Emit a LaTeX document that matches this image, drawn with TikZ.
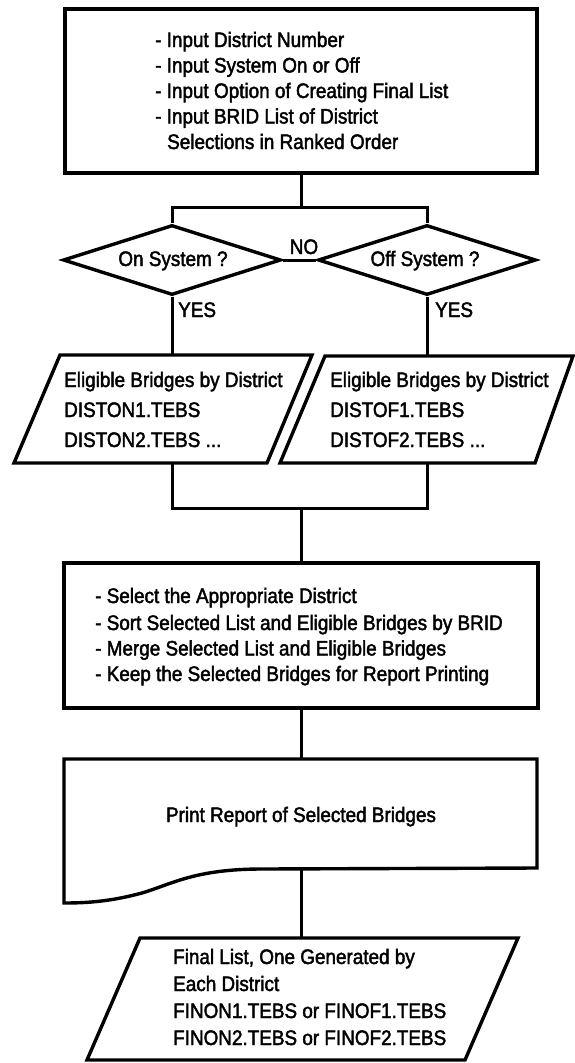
\documentclass[tikz,border=0pt]{standalone}
\usepackage{fontspec}
\setmainfont{Liberation Sans}[FakeStretch=0.9,FakeBold=2]
\usetikzlibrary{shapes.geometric}
\begin{document}
\begin{tikzpicture}[x=1pt,y=-1pt,
  shapeline/.style={draw=black, line width=3.4pt, line join=miter},
  conn/.style={draw=black, line width=3pt},
  txt/.style={font=\fontsize{21}{25}\selectfont, inner sep=0pt, anchor=base west},
  ctxt/.style={txt, anchor=base}]
\fill[white] (0,0) rectangle (575,1063);
\useasboundingbox (0,0) rectangle (575,1063);

% input box
\node[shapeline, rectangle, minimum width=472pt, minimum height=164pt, inner sep=0pt] (inp) at (301,91) {};
\node[txt] (t1) at (155,47) {- Input District Number};
\node[txt] (t2) at (155,72.5) {- Input System On or Off};
\node[txt] (t3) at (155,98) {- Input Option of Creating Final List};
\node[txt] (t4) at (155,123.5) {- Input BRID List of District};
\node[txt] (t5) at (167,149) {Selections in Ranked Order};

% decisions
\node[shapeline, diamond, minimum width=218pt, minimum height=70pt, inner sep=0pt] (onsys) at (172,260) {};
\node[shapeline, diamond, minimum width=218pt, minimum height=70pt, inner sep=0pt] (offsys) at (427,260) {};
\node[ctxt] (ontxt) at (173,266) {On System ?};
\node[ctxt] (offtxt) at (425,266) {Off System ?};
\node[ctxt] (no) at (304,254) {NO};
\node[txt] (yes1) at (178,317) {YES};
\node[txt] (yes2) at (435,317) {YES};

% eligible bridges parallelograms
\draw[shapeline] (60,355) -- (312,355) -- (267,463) -- (14,463) -- cycle;
\draw[shapeline] (325,356) -- (573,356) -- (535,463) -- (280,463) -- cycle;
\coordinate (lpT) at (172,355);
\coordinate (rpT) at (427,356);
\coordinate (lpB) at (172,463);
\coordinate (rpB) at (427,463);
\node[txt] (l1) at (64,387) {Eligible Bridges by District};
\node[txt] (l2) at (64,417) {DISTON1.TEBS};
\node[txt] (l3) at (64,447) {DISTON2.TEBS ...};
\node[txt] (r1) at (330,387) {Eligible Bridges by District};
\node[txt] (r2) at (330,417) {DISTOF1.TEBS};
\node[txt] (r3) at (330,447) {DISTOF2.TEBS ...};

% process box
\node[shapeline, rectangle, minimum width=474pt, minimum height=145pt, inner sep=0pt] (proc) at (301,635.5) {};
\node[txt] (p1) at (95,603) {- Select the Appropriate District};
\node[txt] (p2) at (95,630) {- Sort Selected List and Eligible Bridges by BRID};
\node[txt] (p3) at (95,655.5) {- Merge Selected List and Eligible Bridges};
\node[txt] (p4) at (95,681) {- Keep the Selected Bridges for Report Printing};

% document
\draw[shapeline] (64,759) -- (537,759) -- (537,868) -- (262,869)
  .. controls (195,869) and (172,884) .. (142,893)
  .. controls (112,901) and (90,903) .. (64,903) -- cycle;
\coordinate (docT) at (301,759);
\coordinate (docB) at (301,868);
\node[ctxt] (pr) at (301,822) {Print Report of Selected Bridges};

% final list
\draw[shapeline] (140,938) -- (518,938) -- (465,1060) -- (87,1060) -- cycle;
\coordinate (fpT) at (301,938);
\node[txt] (f1) at (173,964) {Final List, One Generated by};
\node[txt] (f2) at (173,991) {Each District};
\node[txt] (f3) at (173,1018) {FINON1.TEBS or FINOF1.TEBS};
\node[txt] (f4) at (173,1045) {FINON2.TEBS or FINOF2.TEBS};

% connectors
\coordinate (j1) at (301,207);
\draw[conn] (inp.south) -- (j1);
\draw[conn] (onsys.north) -- (onsys.north |- j1) -- (offsys.north |- j1) -- (offsys.north);
\draw[conn] (onsys.east) -- (offsys.west);
\draw[conn] (onsys.south) -- (lpT);
\draw[conn] (offsys.south) -- (rpT);
\coordinate (j2) at (301,508);
\draw[conn] (lpB) -- (lpB |- j2) -- (rpB |- j2) -- (rpB);
\draw[conn] (j2) -- (proc.north);
\draw[conn] (proc.south) -- (docT);
\draw[conn] (docB) -- (fpT);
\end{tikzpicture}
\end{document}
